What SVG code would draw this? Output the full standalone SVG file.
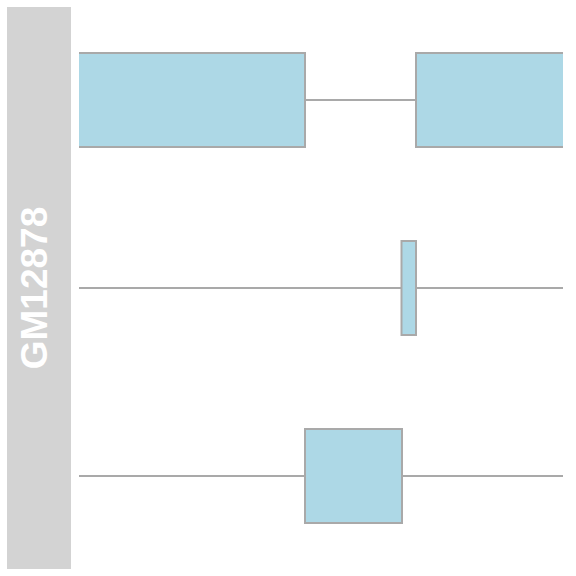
<svg xmlns="http://www.w3.org/2000/svg" width="576" height="576" viewBox="0 0 576 576">
<defs>
<clipPath id="panel"><rect x="79" y="7" width="484" height="562"/></clipPath>
</defs>
<style>
.strip{fill:#d3d3d3}
.lab{font-family:"Liberation Sans",Arial,sans-serif;font-weight:bold;font-size:37px;fill:#ffffff}
.exon{fill:#add8e6;stroke:#a9a9a9;stroke-width:2}
.intron{stroke:#a9a9a9;stroke-width:2;fill:none}
</style>
<rect width="576" height="576" fill="#ffffff"/>
<g id="label">
<rect class="strip" x="7" y="7" width="64" height="562"/>
<text class="lab" x="47" y="288" text-anchor="middle" transform="rotate(-90 47 288)">GM12878</text>
</g>
<g clip-path="url(#panel)">
<g id="connectors">
<line class="intron" x1="305" y1="100" x2="416" y2="100"/>
<line class="intron" x1="70" y1="288" x2="570" y2="288"/>
<line class="intron" x1="70" y1="476" x2="570" y2="476"/>
</g>
<g id="track1">
<rect class="exon" x="70" y="53" width="235" height="94"/>
<rect class="exon" x="416" y="53" width="160" height="94"/>
</g>
<g id="track2">
<rect class="exon" x="401.5" y="241" width="14.5" height="94"/>
</g>
<g id="track3">
<rect class="exon" x="305" y="429" width="97" height="94"/>
</g>
</g>
</svg>
